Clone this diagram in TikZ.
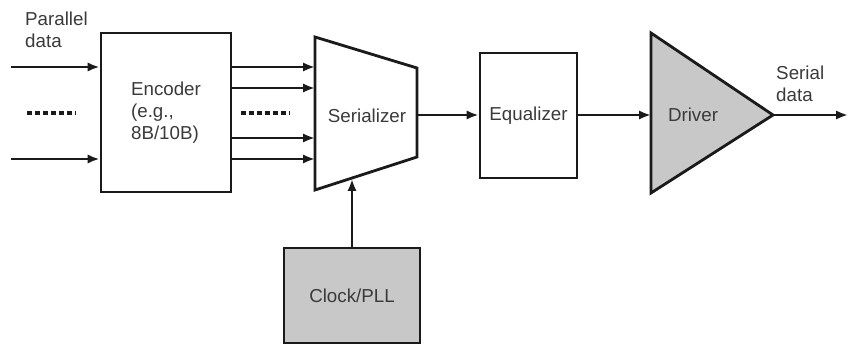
\documentclass[tikz,border=0pt]{standalone}
\usepackage{fontspec}
\setmainfont{Liberation Sans}
\usetikzlibrary{arrows.meta}

\definecolor{lineColour}{HTML}{1A1A1A}
\definecolor{textColour}{HTML}{3A3A3A}
\definecolor{fillColour}{HTML}{C8C8C8}

\tikzset{
    block/.style={draw=lineColour, line width=2.4pt, inner sep=0pt},
    label/.style={text=textColour, font=\fontsize{16}{18.8}\selectfont, align=left},
    signal/.style={draw=lineColour, line width=2.4pt, -{Latex[length=3.6mm,width=2.8mm]}},
    dots/.style={draw=lineColour, line width=2.7pt, dash pattern=on 4.2pt off 2.6pt}
}

\begin{document}
\begin{tikzpicture}[x=0.03cm, y=-0.03cm]
    \useasboundingbox (0,0) rectangle (850,346);

    % Blocks
    \node[block, minimum width=3.9cm, minimum height=4.77cm] (enc) at (166,112.5) {};
    \node[label] at (enc.center) {Encoder\\(e.g.,\\8B/10B)};

    \node[block, minimum width=2.91cm, minimum height=3.75cm] (eq) at (528.5,115.5) {};
    \node[label] at (eq.center) {Equalizer};

    \node[block, fill=fillColour, minimum width=4.08cm, minimum height=2.85cm] (pll) at (352,295.5) {};
    \node[label] at (pll.center) {Clock/PLL};

    % Serializer (trapezoid)
    \coordinate (serTL) at (315,37);
    \coordinate (serTR) at (417,68);
    \coordinate (serBR) at (417,157);
    \coordinate (serBL) at (315,190);
    \draw[block, line join=miter] (serTL) -- (serTR) -- (serBR) -- (serBL) -- cycle;
    \node[label] (ser) at (367,116) {Serializer};

    % Driver (triangle)
    \coordinate (drvT) at (651,33);
    \coordinate (drvB) at (651,193);
    \coordinate (drvTip) at (773,115);
    \draw[block, fill=fillColour, line join=miter] (drvT) -- (drvTip) -- (drvB) -- cycle;
    \node[label] (drv) at (693,115) {Driver};

    % Parallel inputs
    \node[label, anchor=north west, inner sep=0pt] (pin) at (25,12) {Parallel\\data};
    \foreach \y in {67,159}
        \draw[signal] (11,\y) -- (enc.west |- 0,\y);
    \draw[dots] (27,113) -- (76,113);

    % Encoder to serializer
    \foreach \y in {67,88,138,159}
        \draw[signal] (enc.east |- 0,\y) -- (315,\y);
    \draw[dots] (241,113) -- (289,113);

    % Serial path
    \draw[signal] (417,115) -- (eq.west |- 0,115);
    \draw[signal] (eq.east |- 0,115) -- (drvT |- 0,115);
    \coordinate (out) at (848,115);
    \draw[signal] (drvTip) -- (out);
    \node[label, anchor=north west, inner sep=0pt] (pout) at (776,66) {Serial\\data};

    % Clock to serializer
    \draw[signal] (pll.north) -- (352,179);

\end{tikzpicture}
\end{document}
